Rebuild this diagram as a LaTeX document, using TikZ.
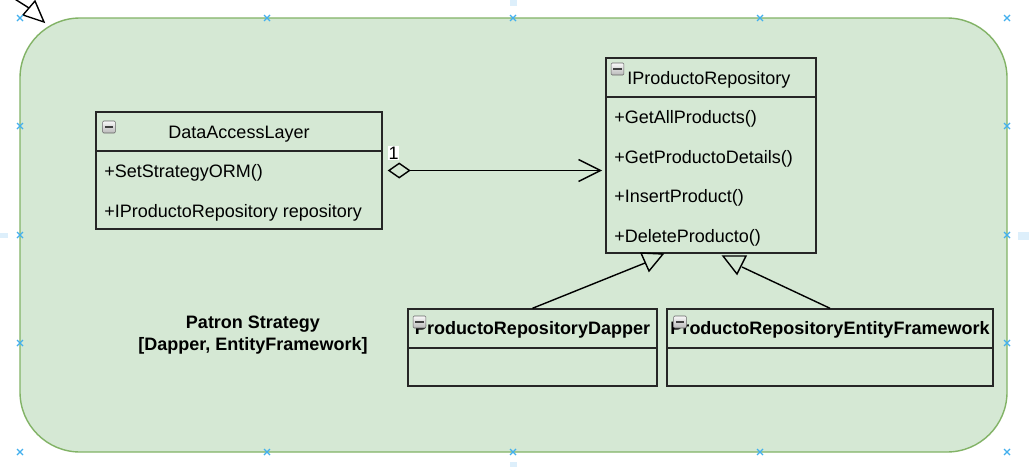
\documentclass[tikz,border=0pt]{standalone}
\usepackage{fontspec}
\setmainfont{Liberation Sans}
\usetikzlibrary{arrows.meta,positioning}
\definecolor{groupfill}{HTML}{D5E8D4}
\definecolor{groupline}{HTML}{82B366}
\definecolor{markblue}{HTML}{42B0EE}
\definecolor{markpale}{HTML}{DDEFFB}
\begin{document}
\begin{tikzpicture}[x=0.025cm, y=-0.025cm,
  every node/.style={font=\fontsize{12.8}{15.4}\selectfont, inner sep=0pt},
  classbox/.style={draw=black!85, line width=1pt},
  member/.style={anchor=west},
  title/.style={font=\fontsize{12.8}{15.4}\selectfont\bfseries},
  icon/.style={draw=gray!80!black, rounded corners=0.8pt, top color=gray!5, bottom color=gray!55,
    minimum width=0.32cm, minimum height=0.3cm,
    path picture={\draw[line width=1.1pt, black!75] ([xshift=1.6pt]path picture bounding box.west) -- ([xshift=-1.6pt]path picture bounding box.east);}},
  marker/.style={markblue, line width=0.8pt}]
  % page
  \clip (0,0) rectangle (1029,467);
  \fill[white] (0,0) rectangle (1029,467);

  % group
  \draw[groupline, fill=groupfill, line width=1pt, rounded corners=1.5cm] (20,18) rectangle (1007,452);

  % stray arrow
  \draw[line width=1pt] (10,-4) -- (29,8);
  \draw[line width=1pt] (35,1) -- (23,15) -- (44,22) -- cycle;

  % editor marks
  \foreach \x in {20,267,513,760,1007} {
    \draw[marker] (\x,18) +(-3,-3) -- +(3,3) +(-3,3) -- +(3,-3);
    \draw[marker] (\x,452) +(-3,-3) -- +(3,3) +(-3,3) -- +(3,-3);
  }
  \foreach \y in {126,235,343} {
    \draw[marker] (20,\y) +(-3,-3) -- +(3,3) +(-3,3) -- +(3,-3);
    \draw[marker] (1007,\y) +(-3,-3) -- +(3,3) +(-3,3) -- +(3,-3);
  }
  \fill[markpale] (510,0) rectangle (517,6);
  \fill[markpale] (510,462) rectangle (517,467);
  \fill[markpale] (0,233) rectangle (8,238);
  \fill[markpale] (1018,232) rectangle (1029,240);

  % DataAccessLayer
  \node[classbox, minimum width=286*0.025cm, minimum height=117*0.025cm] (dal) at (239,170.5) {};
  \draw[classbox] (96,151) -- (382,151);
  \node (daltitle) at (239,134) {DataAccessLayer};
  \node[icon] (dalicon) at (109,127) {};
  \node[member] (dalop) at (104,173) {+SetStrategyORM()};
  \node[member] (dalattr) at (104,213) {+IProductoRepository repository};

  % IProductoRepository
  \node[classbox, minimum width=210*0.025cm, minimum height=195*0.025cm] (repo) at (711,155.5) {};
  \draw[classbox] (606,97) -- (816,97);
  \node[member] (repotitle) at (627,80) {IProductoRepository};
  \node[icon] (repoicon) at (617.5,69) {};
  \node[member] (getall) at (614,119) {+GetAllProducts()};
  \node[member] (getdetails) at (614,159) {+GetProductoDetails()};
  \node[member] (insert) at (614,198) {+InsertProduct()};
  \node[member] (delete) at (614,238) {+DeleteProducto()};

  % implementations
  \node[classbox, minimum width=249*0.025cm, minimum height=77*0.025cm] (dapper) at (532.5,347.5) {};
  \draw[classbox] (408,348) -- (657,348);
  \node[title] (dappertitle) at (532.5,330) {ProductoRepositoryDapper};
  \node[icon] (dappericon) at (419.5,322) {};

  \node[classbox, minimum width=326*0.025cm, minimum height=77*0.025cm] (ef) at (830,347.5) {};
  \draw[classbox] (667,348) -- (993,348);
  \node[title] (eftitle) at (830,330) {ProductoRepositoryEntityFramework};
  \node[icon] (eficon) at (680,322) {};

  % aggregation
  \draw[line width=1pt, shorten <=0.125cm, shorten >=0.08cm,
    {Diamond[open, length=0.575cm, width=0.4cm]}-{Straight Barb[length=0.55cm, width=0.55cm]}]
    (dal.east) -- (dal.east -| repo.west);
  \node[fill=white, inner sep=0.6pt] (mult) at (393.5,153) {1};

  % generalization
  \coordinate (gtipa) at (645,263);
  \coordinate (gtipb) at (742,267);
  \draw[line width=1pt] (dapper.north) -- (gtipa);
  \draw[line width=1pt] (641,253) -- (663,254) -- (649,271) -- cycle;
  \draw[line width=1pt] (ef.north) -- (gtipb);
  \draw[line width=1pt] (723,256) -- (746,256) -- (737,274) -- cycle;

  % caption
  \node[title, align=center] (caption) at (253,335) {Patron Strategy\\{}[Dapper, EntityFramework]};
\end{tikzpicture}
\end{document}
